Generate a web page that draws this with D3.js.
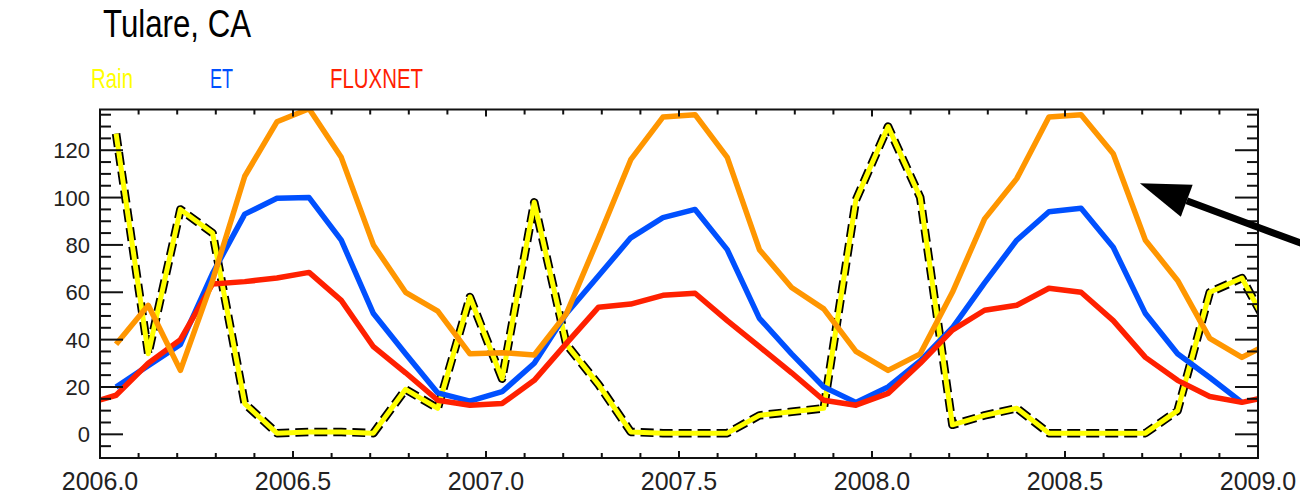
<!DOCTYPE html>
<html>
<head>
<meta charset="utf-8">
<script src="https://cdn.jsdelivr.net/npm/d3@7"></script>
<style>
  html, body { margin: 0; padding: 0; background: #fff; }
  svg { display: block; }
</style>
</head>
<body>
<div id="chart"></div>
<script>
// monthly values, Dec 2005 .. Jan 2009 (null = not plotted)
const months = [
  "2005-12",
  "2006-01", "2006-02", "2006-03", "2006-04", "2006-05", "2006-06",
  "2006-07", "2006-08", "2006-09", "2006-10", "2006-11", "2006-12",
  "2007-01", "2007-02", "2007-03", "2007-04", "2007-05", "2007-06",
  "2007-07", "2007-08", "2007-09", "2007-10", "2007-11", "2007-12",
  "2008-01", "2008-02", "2008-03", "2008-04", "2008-05", "2008-06",
  "2008-07", "2008-08", "2008-09", "2008-10", "2008-11", "2008-12",
  "2009-01"
];

const rain = [null, 127, 34, 95, 85, 13, 0.5, 1, 1, 0.5, 19, 11, 58,
  23.5, 98, 38, 21, 1, 0.5, 0.5, 0.5, 8, 9.5, 11, 99,
  130, 100, 4, 8, 11, 0.5, 0.5, 0.5, 0.5, 10, 60, 66, 41];

const et = [null, 20, 29, 38, 68, 93, 99.7, 100, 82, 51, 34, 17.5, 14,
  18, 30, 51, 67, 83, 91.5, 95, 78, 49, 34, 20, 13.5,
  20, 31, 45, 64, 82, 94, 95.5, 79, 51, 34, 24, 13.5, null];

const fluxnet = [12.5, 16.5, 30, 40, 63.5, 64.5, 66, 68.4, 56.6, 37, 26, 14.4, 12.3,
  13, 22.8, 38.4, 53.7, 55, 58.7, 59.6, 48, 37, 26, 14.4, 12.3,
  17.3, 30, 44, 52.4, 54.5, 61.7, 60, 48, 32.5, 22.8, 16, 13.5, 16.5];

// the unlabelled curve the arrow points at
const arrowed = [null, 38, 54.5, 27, 65, 109, 132, 137.5, 117, 80, 60, 52, 34,
  34.5, 33.5, 51, 83, 116, 134, 135, 117, 78, 62, 53, 35,
  27, 34, 60, 91, 108, 134, 135, 118.5, 82, 65, 40.5, 32.5, 39.5];

const xTickValues = [2006.0, 2006.5, 2007.0, 2007.5, 2008.0, 2008.5, 2009.0];
const yTickValues = [0, 20, 40, 60, 80, 100, 120];
const legendNames = ["Rain", "ET", "FLUXNET"];

const width = 1300;
const height = 496;
const plotLeft = 100, plotRight = 1258, plotTop = 109.5, plotBottom = 458;

const colRain = "#ffff00";
const colEt = "#0050ff";
const colFlux = "#ff2000";
const colOrange = "#ff9600";

const x = d3.scaleLinear().domain([2006, 2009]).range([plotLeft, plotRight]);
const y = d3.scaleLinear().domain([-10, 137.2]).range([plotBottom, plotTop]);

// decimal year of the middle of each month
const monthX = months.map(m => {
  const [yr, mo] = m.split("-").map(Number);
  return yr + (mo - 0.5) / 12;
});

const svg = d3.select("#chart").append("svg")
  .attr("width", width)
  .attr("height", height)
  .attr("viewBox", [0, 0, width, height]);

svg.append("defs").append("clipPath").attr("id", "plot-clip")
  .append("rect")
  .attr("x", plotLeft).attr("y", plotTop)
  .attr("width", plotRight - plotLeft).attr("height", plotBottom - plotTop);

const line = d3.line()
  .defined(d => d[1] != null)
  .x(d => x(d[0]))
  .y(d => y(d[1]));

const pairs = values => monthX.map((t, i) => [t, values[i]]);

const plot = svg.append("g").attr("clip-path", "url(#plot-clip)");

// rain: black dashed underlay with yellow on top
plot.append("path")
  .attr("d", line(pairs(rain)))
  .attr("fill", "none")
  .attr("stroke", "#000")
  .attr("stroke-width", 8.5)
  .attr("stroke-dasharray", "13,6")
  .attr("stroke-linejoin", "round");
plot.append("path")
  .attr("d", line(pairs(rain)))
  .attr("fill", "none")
  .attr("stroke", colRain)
  .attr("stroke-width", 5)
  .attr("stroke-linejoin", "round");

[[et, colEt], [fluxnet, colFlux], [arrowed, colOrange]].forEach(([vals, col]) => {
  plot.append("path")
    .attr("d", line(pairs(vals)))
    .attr("fill", "none")
    .attr("stroke", col)
    .attr("stroke-width", 5.5)
    .attr("stroke-linejoin", "round");
});

// frame + ticks
const axes = svg.append("g").attr("stroke", "#111").attr("stroke-width", 2);

axes.append("rect")
  .attr("x", plotLeft).attr("y", plotTop)
  .attr("width", plotRight - plotLeft).attr("height", plotBottom - plotTop)
  .attr("fill", "none");

const xMinor = d3.range(20061, 20090).map(v => v / 10);
xMinor.forEach(v => {
  const major = Math.abs(v * 2 - Math.round(v * 2)) < 1e-6;
  const len = major ? 7 : 5;
  axes.append("line").attr("x1", x(v)).attr("x2", x(v)).attr("y1", plotBottom).attr("y2", plotBottom - len);
  axes.append("line").attr("x1", x(v)).attr("x2", x(v)).attr("y1", plotTop).attr("y2", plotTop + len);
});

const yMinor = d3.range(-5, 137, 5);
yMinor.forEach(v => {
  const len = v % 20 === 0 ? 23 : 11;
  axes.append("line").attr("x1", plotLeft).attr("x2", plotLeft + len).attr("y1", y(v)).attr("y2", y(v));
  axes.append("line").attr("x1", plotRight).attr("x2", plotRight - len).attr("y1", y(v)).attr("y2", y(v));
});

// tick labels
svg.append("g")
  .selectAll("text")
  .data(xTickValues)
  .join("text")
  .attr("x", d => x(d))
  .attr("y", 490)
  .attr("text-anchor", "middle")
  .attr("font-family", "Liberation Sans, Arial, sans-serif")
  .attr("font-size", 25)
  .attr("fill", "#222")
  .text(d => d3.format(".1f")(d));

svg.append("g")
  .selectAll("text")
  .data(yTickValues)
  .join("text")
  .attr("x", 90)
  .attr("y", d => y(d) + 8)
  .attr("text-anchor", "end")
  .attr("font-family", "Liberation Sans, Arial, sans-serif")
  .attr("font-size", 22)
  .attr("fill", "#222")
  .text(d => d);

// title and legend
svg.append("text")
  .attr("x", 103).attr("y", 37)
  .attr("font-family", "Liberation Sans, Arial, sans-serif")
  .attr("font-size", 38)
  .attr("textLength", 148)
  .attr("lengthAdjust", "spacingAndGlyphs")
  .attr("fill", "#000")
  .text("Tulare, CA");

const legendPos = [[91, 42, colRain], [210, 23, colEt], [330, 93, colFlux]];
legendNames.forEach((name, i) => {
  const [lx, lw, col] = legendPos[i];
  svg.append("text")
    .attr("x", lx).attr("y", 88)
    .attr("font-family", "Liberation Sans, Arial, sans-serif")
    .attr("font-size", 28)
    .attr("textLength", lw)
    .attr("lengthAdjust", "spacingAndGlyphs")
    .attr("fill", col)
    .text(name);
});

// arrow pointing at the orange curve
const tip = [x(2008.694), y(106)];
const tail = [1330, 254];
const ang = Math.atan2(tail[1] - tip[1], tail[0] - tip[0]);
const headLen = 50, headHalf = 17;
const bx = tip[0] + headLen * Math.cos(ang), by = tip[1] + headLen * Math.sin(ang);
svg.append("line")
  .attr("x1", bx).attr("y1", by)
  .attr("x2", tail[0]).attr("y2", tail[1])
  .attr("stroke", "#000")
  .attr("stroke-width", 7);
svg.append("path")
  .attr("d", d3.line()([
    tip,
    [bx - headHalf * Math.sin(ang), by + headHalf * Math.cos(ang)],
    [bx + headHalf * Math.sin(ang), by - headHalf * Math.cos(ang)]
  ]) + "Z")
  .attr("fill", "#000");
</script>
</body>
</html>
